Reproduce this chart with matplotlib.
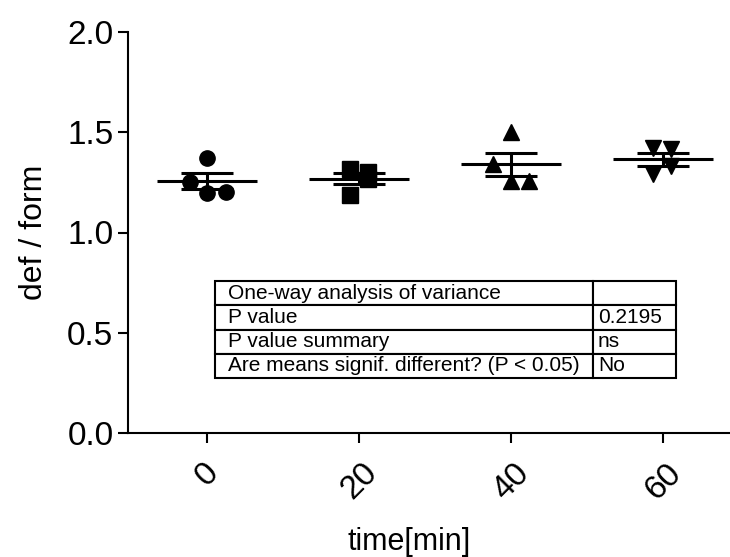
import numpy as np
import matplotlib
matplotlib.use('Agg')
import matplotlib.pyplot as plt

plt.rcParams['font.family'] = ['Liberation Sans', 'DejaVu Sans']

# Données
time_labels = ['0', '20', '40', '60']
t0 = [1.370, 1.253, 1.199, 1.204]
t20 = [1.318, 1.189, 1.303, 1.266]
t40 = [1.501, 1.343, 1.258, 1.258]
t60 = [1.422, 1.292, 1.415, 1.330]
groups = [t0, t20, t40, t60]
markers = ['o', 's', '^', 'v']

# décalage horizontal des points (placement type "column scatter")
jitter = [[0.0, -0.11, 0.0, 0.125],
          [-0.057, -0.057, 0.06, 0.06],
          [0.0, -0.12, 0.0, 0.116],
          [-0.067, -0.067, 0.05, 0.05]]

table_rows = [['One-way analysis of variance', ''],
              ['P value', '0.2195'],
              ['P value summary', 'ns'],
              ['Are means signif. different? (P < 0.05)', 'No']]

fig = plt.figure(figsize=(7.3, 5.57), dpi=100)
ax = fig.add_axes([128/730, 124/557, 602/730, 401/557])

for i, vals in enumerate(groups):
    vals = np.array(vals)
    xs = i + np.array(jitter[i])
    ax.plot(xs, vals, linestyle='none', marker=markers[i], color='black',
            markersize=11, zorder=3)
    m = vals.mean()
    sem = vals.std(ddof=1) / np.sqrt(len(vals))
    ax.hlines(m, i - 0.33, i + 0.33, color='black', lw=2.2, zorder=4)
    ax.vlines(i, m - sem, m + sem, color='black', lw=2.2, zorder=4)
    ax.hlines([m - sem, m + sem], i - 0.17, i + 0.17, color='black', lw=2.2, zorder=4)

ax.set_xlim(-0.52, 3.44)
ax.set_ylim(0, 2.0)
ax.set_yticks([0.0, 0.5, 1.0, 1.5, 2.0])
ax.set_yticklabels(['0.0', '0.5', '1.0', '1.5', '2.0'])
ax.set_xticks(range(len(time_labels)))
ax.set_xticklabels(time_labels, rotation=45, ha='center')

for side in ['top', 'right']:
    ax.spines[side].set_visible(False)
for side in ['left', 'bottom']:
    ax.spines[side].set_linewidth(1.5)
ax.tick_params(axis='both', width=1.5, length=7.5, labelsize=24, pad=3)
ax.tick_params(axis='x', pad=10)

ax.set_ylabel('def / form', fontsize=23, labelpad=13)
ax.set_xlabel('time[min]', fontsize=22)
ax.xaxis.set_label_coords(281/602, -(550-433)/401)
ax.xaxis.label.set_va('baseline')

tab = ax.table(cellText=table_rows, colWidths=[378, 83], cellLoc='left',
               bbox=[87/602, 55/401, 461/602, 97/401])
tab.auto_set_font_size(False)
for (r, c), cell in tab.get_celld().items():
    cell.set_linewidth(1.5)
    cell.set_fontsize(15)
    cell.PAD = 0.034 if c == 0 else 0.06

fig.savefig('out.png', dpi=100)
